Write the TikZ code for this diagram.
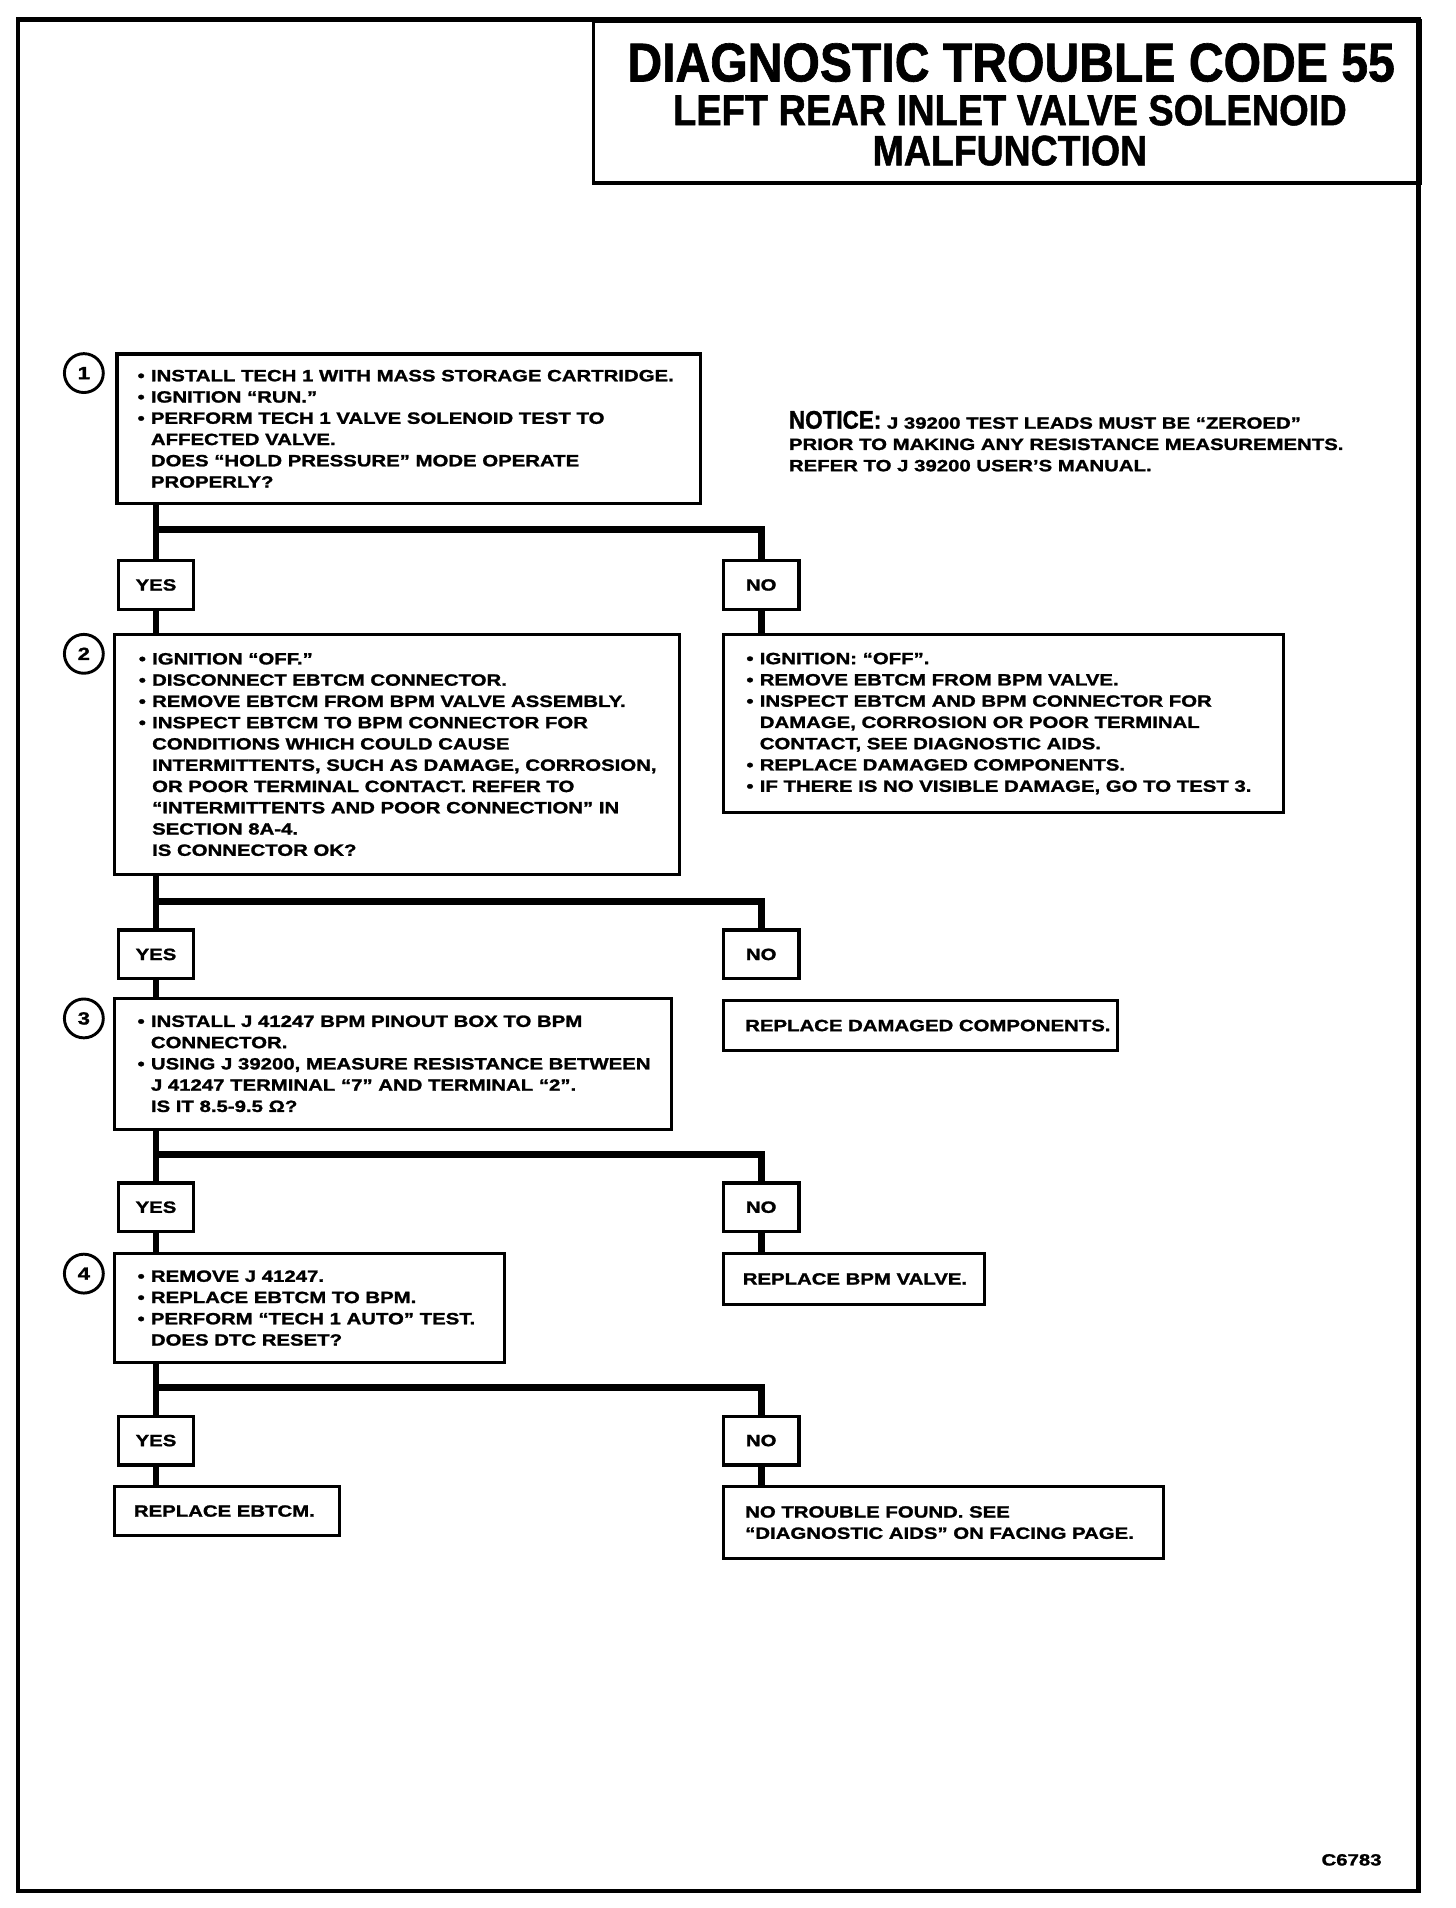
\documentclass[tikz,border=0pt]{standalone}
\usepackage{fontspec}
\usetikzlibrary{calc}
\newfontfamily\bodyfont[FakeStretch=1.25,FakeBold=1.5]{Liberation Sans Bold}
\newfontfamily\titlefont[FakeStretch=0.88,FakeBold=1.2]{Liberation Sans Bold}
\newcommand\bul{\makebox[11pt][l]{•}}
\newcommand\ind{\hspace*{11pt}}
\tikzset{
  frame/.style={draw, line width=3.7},
  box/.style={draw, line width=2.7, rectangle, inner sep=0, anchor=north west},
  yn/.style={box, minimum width=62, minimum height=40, font=\bodyfont\fontsize{13.4}{17.5}\selectfont},
  txt/.style={inner sep=0, align=left, anchor=west, font=\bodyfont\fontsize{13.4}{17.5}\selectfont},
  conn/.style={line width=5.5},
  numc/.style={circle, draw, line width=2.4, minimum size=32, inner sep=0, font=\bodyfont\fontsize{14.5}{17.5}\selectfont},
  ttl/.style={inner sep=0, anchor=base, font=\titlefont}
}
\begin{document}
\begin{tikzpicture}[x=1pt,y=-1pt]
\useasboundingbox (0,0) rectangle (1198,1570);
\draw[frame] (15,16) rectangle (1167,1556);
% title
\node[box, line width=3, minimum width=680, minimum height=133] (title) at (487,16) {};
\node[ttl, font=\titlefont\fontsize{45}{45}\selectfont] (tl1) at (832,67) {DIAGNOSTIC TROUBLE CODE 55};
\node[ttl, font=\titlefont\fontsize{35.5}{35.5}\selectfont] (tl2) at (831,103) {LEFT REAR INLET VALVE SOLENOID};
\node[ttl, font=\titlefont\fontsize{35}{35}\selectfont] (tl3) at (831,136) {MALFUNCTION};
% notice
\node[txt] (notice) at (649,363) {{\titlefont\fontsize{21}{21}\selectfont NOTICE:} J 39200 TEST LEADS MUST BE “ZEROED”\\
PRIOR TO MAKING ANY RESISTANCE MEASUREMENTS.\\
REFER TO J 39200 USER’S MANUAL.};
% step circles
\node[numc] (c1) at (69,307) {1};
\node[numc] (c2) at (69,538) {2};
\node[numc] (c3) at (69,838) {3};
\node[numc] (c4) at (69,1048) {4};
% main boxes
\node[box, minimum width=480, minimum height=123] (b1) at (95,290) {};
\node[txt] (t1) at ($(b1.west)+(18,0)$) {\bul INSTALL TECH 1 WITH MASS STORAGE CARTRIDGE.\\
\bul IGNITION “RUN.”\\
\bul PERFORM TECH 1 VALVE SOLENOID TEST TO\\
\ind AFFECTED VALVE.\\
\ind DOES “HOLD PRESSURE” MODE OPERATE\\
\ind PROPERLY?};
\node[yn] (yes1) at (96,460) {YES};
\node[yn] (no1) at (594,460) {NO};
\node[box, minimum width=465, minimum height=197] (b2) at (93,521) {};
\node[txt] (t2) at ($(b2.west)+(21,0)$) {\bul IGNITION “OFF.”\\
\bul DISCONNECT EBTCM CONNECTOR.\\
\bul REMOVE EBTCM FROM BPM VALVE ASSEMBLY.\\
\bul INSPECT EBTCM TO BPM CONNECTOR FOR\\
\ind CONDITIONS WHICH COULD CAUSE\\
\ind INTERMITTENTS, SUCH AS DAMAGE, CORROSION,\\
\ind OR POOR TERMINAL CONTACT. REFER TO\\
\ind “INTERMITTENTS AND POOR CONNECTION” IN\\
\ind SECTION 8A-4.\\
\ind IS CONNECTOR OK?};
\node[box, minimum width=461, minimum height=146] (n2) at (594,521) {};
\node[txt] (tn2) at ($(n2.west)+(20,0)$) {\bul IGNITION: “OFF”.\\
\bul REMOVE EBTCM FROM BPM VALVE.\\
\bul INSPECT EBTCM AND BPM CONNECTOR FOR\\
\ind DAMAGE, CORROSION OR POOR TERMINAL\\
\ind CONTACT, SEE DIAGNOSTIC AIDS.\\
\bul REPLACE DAMAGED COMPONENTS.\\
\bul IF THERE IS NO VISIBLE DAMAGE, GO TO TEST 3.};
\node[yn] (yes2) at (96,764) {YES};
\node[yn] (no2) at (594,764) {NO};
\node[box, minimum width=458, minimum height=108] (b3) at (93,820) {};
\node[txt] (t3) at ($(b3.west)+(20,0)$) {\bul INSTALL J 41247 BPM PINOUT BOX TO BPM\\
\ind CONNECTOR.\\
\bul USING J 39200, MEASURE RESISTANCE BETWEEN\\
\ind J 41247 TERMINAL “7” AND TERMINAL “2”.\\
\ind IS IT 8.5-9.5 Ω?};
\node[box, minimum width=324, minimum height=41] (n3) at (594,822) {};
\node[txt] (tn3) at ($(n3.west)+(19,0)$) {REPLACE DAMAGED COMPONENTS.};
\node[yn] (yes3) at (96,972) {YES};
\node[yn] (no3) at (594,972) {NO};
\node[box, minimum width=321, minimum height=90] (b4) at (93,1030) {};
\node[txt] (t4) at ($(b4.west)+(20,0)$) {\bul REMOVE J 41247.\\
\bul REPLACE EBTCM TO BPM.\\
\bul PERFORM “TECH 1 AUTO” TEST.\\
\ind DOES DTC RESET?};
\node[box, minimum width=215, minimum height=42] (n4) at (594,1030) {};
\node[txt] (tn4) at ($(n4.west)+(17,0)$) {REPLACE BPM VALVE.};
\node[yn] (yes4) at (96,1164) {YES};
\node[yn] (no4) at (594,1164) {NO};
\node[box, minimum width=185, minimum height=40] (y5) at (93,1222) {};
\node[txt] (ty5) at ($(y5.west)+(17,0)$) {REPLACE EBTCM.};
\node[box, minimum width=362, minimum height=59] (n5) at (594,1222) {};
\node[txt] (tn5) at ($(n5.west)+(19,0)$) {NO TROUBLE FOUND. SEE\\
“DIAGNOSTIC AIDS” ON FACING PAGE.};
\node[txt, anchor=base east] (code) at (1137,1535) {C6783};
% connectors
\draw[conn] (b1.south -| yes1.north) -- (yes1.north);
\draw[conn] ($(b1.south -| yes1.north)+(0,20)$) -| (no1.north);
\draw[conn] (yes1.south) -- (yes1.south |- b2.north);
\draw[conn] (no1.south) -- (no1.south |- n2.north);
\draw[conn] (b2.south -| yes2.north) -- (yes2.north);
\draw[conn] ($(b2.south -| yes2.north)+(0,21)$) -| (no2.north);
\draw[conn] (yes2.south) -- (yes2.south |- b3.north);
\draw[conn] (b3.south -| yes3.north) -- (yes3.north);
\draw[conn] ($(b3.south -| yes3.north)+(0,19)$) -| (no3.north);
\draw[conn] (yes3.south) -- (yes3.south |- b4.north);
\draw[conn] (no3.south) -- (no3.south |- n4.north);
\draw[conn] (b4.south -| yes4.north) -- (yes4.north);
\draw[conn] ($(b4.south -| yes4.north)+(0,19)$) -| (no4.north);
\draw[conn] (yes4.south) -- (yes4.south |- y5.north);
\draw[conn] (no4.south) -- (no4.south |- n5.north);
\end{tikzpicture}
\end{document}
